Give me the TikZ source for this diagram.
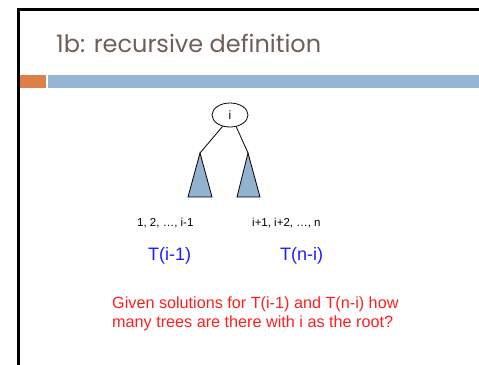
\documentclass[tikz,border=0pt]{standalone}
\usepackage{fontspec}
\setmainfont{Liberation Sans}
\newfontfamily\titlefont{Poppins}
\usetikzlibrary{shapes.geometric}
\definecolor{titlegray}{RGB}{112,94,86}
\definecolor{barorange}{RGB}{221,128,71}
\definecolor{barblue}{RGB}{148,182,210}
\definecolor{trifill}{RGB}{146,178,208}
\definecolor{tblue}{RGB}{30,30,255}
\definecolor{tred}{RGB}{255,30,30}
\tikzset{
  smalllabel/.style={anchor=base west, inner sep=0pt, font=\fontsize{11.5}{13}\selectfont},
  tlabel/.style={anchor=base west, inner sep=0pt, text=tblue, font=\fontsize{18}{21}\selectfont},
  subtree/.style={draw=black, fill=trifill, line width=0.8pt, line join=miter},
  edge/.style={draw=black, line width=0.8pt},
}
\begin{document}
\begin{tikzpicture}[x=1pt,y=-1pt]
\useasboundingbox (0,0) rectangle (479,364);
% frame
\draw[line width=3pt] (18.5,400) -- (18.5,9.5) -- (520,9.5);
% bars
\fill[barorange] (20,75) rectangle (46,88);
\fill[barblue] (48,75) rectangle (479,88);
% title
\node[anchor=base west, inner sep=0pt, text=titlegray, font=\titlefont\fontsize{24}{28}\selectfont] (title) at (56,52) {1b: recursive definition};
% root
\node[draw, ellipse, line width=0.8pt, minimum width=36pt, minimum height=24pt, inner sep=0pt, font=\fontsize{12}{14}\selectfont] (root) at (230,115) {i};
% subtrees
\coordinate (la) at (200,153);
\coordinate (ra) at (248,153);
\path[subtree] (la) -- (188,197) -- (212,197) -- cycle;
\path[subtree] (ra) -- (237,197) -- (260,197) -- cycle;
\draw[edge] (root.237) -- (la);
\draw[edge] (root.298) -- (ra);
% labels
\node[smalllabel] (lset) at (137,226) {1, 2, …, i-1};
\node[smalllabel] (rset) at (252,226) {i+1, i+2, …, n};
\node[tlabel] (tl) at (148,260) {T(i-1)};
\node[tlabel] (tr) at (280,260) {T(n-i)};
\node[anchor=base west, inner sep=0pt, align=left, text=tred, font=\fontsize{16.2}{19}\selectfont] (q) at (112,327) {Given solutions for T(i-1) and T(n-i) how\\many trees are there with i as the root?};
\end{tikzpicture}
\end{document}
